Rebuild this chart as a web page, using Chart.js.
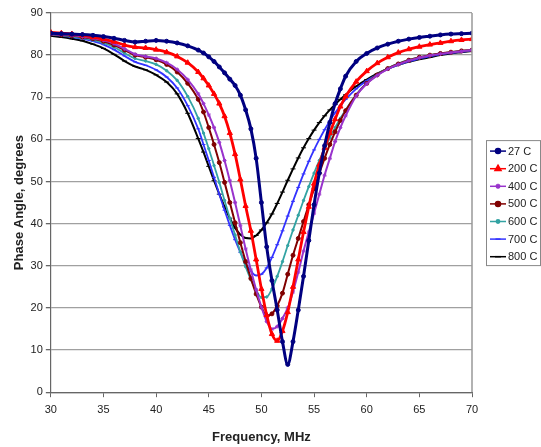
<!DOCTYPE html>
<html>
<head>
<meta charset="utf-8">
<script src="https://cdn.jsdelivr.net/npm/chart.js@4.4.1/dist/chart.umd.min.js"></script>
<style>
  body { margin: 0; background: #fff; }
  #wrap { width: 541px; height: 447px; }
</style>
</head>
<body>
<div id="wrap"><canvas id="phase"></canvas></div>
<script>
// frequency points, MHz (denser through the dip)
const freqs = [30, 31, 32, 33, 34, 35, 36, 37, 38, 39, 40, 41, 42, 43, 44,
  44.5, 45, 45.5, 46, 46.5, 47, 47.5, 48, 48.5, 49, 49.5, 50, 50.5, 51, 51.5,
  52, 52.5, 53, 53.5, 54, 54.5, 55, 55.5, 56, 56.5, 57, 57.5, 58,
  59, 60, 61, 62, 63, 64, 65, 66, 67, 68, 69, 70];

// phase angle, degrees
const t27 = [85.2, 85.1, 85.0, 84.9, 84.7, 84.4, 84.0, 83.5, 83.1, 83.3, 83.5, 83.3, 82.9, 82.2, 81.2,
  80.5, 79.6, 78.5, 77.2, 75.8, 74.3, 72.8, 70.5, 67, 62.5, 55.5, 45, 34.5, 26.5, 19.5,
  12, 6.6, 12, 19.5, 27.5, 36, 44.5, 52, 58.5, 64, 68.5, 72, 75,
  78.5, 80.4, 81.7, 82.6, 83.3, 83.8, 84.2, 84.5, 84.8, 85.0, 85.1, 85.2];
const t200 = [85.4, 85.2, 85.0, 84.7, 84.3, 83.8, 83.2, 82.4, 81.9, 81.7, 81.3, 80.7, 79.7, 78.2, 76.0,
  74.5, 72.8, 70.8, 68.5, 65.5, 61.5, 56.5, 50.5, 44.2, 38.3, 31.5, 24.5, 18.3, 13.8, 12.2,
  14.5, 19, 25, 31.5, 38, 44, 49.5, 54, 58, 61.5, 64.8, 67.8, 70.2,
  73.7, 76.2, 78.1, 79.5, 80.6, 81.4, 82.0, 82.5, 82.9, 83.3, 83.6, 83.8];
const t400 = [85.0, 84.9, 84.7, 84.4, 84.0, 83.5, 82.7, 81.5, 80.2, 79.7, 79.2, 78.2, 76.6, 74.2, 70.8,
  68.5, 65.8, 62.8, 59.3, 55, 50.2, 45, 39.5, 34, 29, 24.3, 20.2, 16.8, 15.0, 15.6,
  17.5, 20, 23.8, 28.5, 33.5, 38, 42.5, 47, 51.5, 55.5, 59.5, 62.8, 65.6,
  70.3, 73.2, 75.2, 76.7, 77.8, 78.7, 79.4, 79.9, 80.3, 80.6, 80.9, 81.2];
const t500 = [85.0, 84.8, 84.6, 84.3, 83.9, 83.3, 82.4, 81.2, 80.0, 79.5, 78.9, 77.8, 76.0, 73.3, 69.5,
  66.5, 62.8, 58.8, 54.5, 49.8, 45, 40.2, 35.5, 31, 27, 23.3, 20.2, 18.1, 18.6, 20.5,
  23.5, 28, 32.5, 36.5, 40.5, 44.5, 48.3, 52, 55.5, 58.8, 61.8, 64.5, 66.8,
  70.5, 73.3, 75.3, 76.8, 77.9, 78.8, 79.5, 80.0, 80.4, 80.7, 81.0, 81.2];
const t600 = [84.9, 84.7, 84.4, 84.1, 83.6, 82.9, 81.9, 80.5, 79.2, 78.6, 77.8, 76.3, 74.0, 70.2, 65.0,
  61.5, 57.8, 53.8, 49.8, 45.5, 41.3, 37.3, 33.3, 29.8, 26.7, 24.2, 22.5, 22.6, 24.5, 27.5,
  31, 34.8, 38.5, 42, 45.5, 48.8, 52, 55, 57.8, 60.4, 62.8, 65, 67,
  70.6, 73.4, 75.4, 76.9, 78.0, 78.9, 79.5, 80.0, 80.4, 80.7, 81.0, 81.2];
const t700 = [84.8, 84.6, 84.3, 83.9, 83.3, 82.5, 81.3, 79.8, 78.4, 77.6, 76.5, 74.8, 72.2, 68.0, 62.5,
  58.8, 55, 51, 47, 43.2, 39.6, 36.2, 33.2, 30.6, 28.7, 27.7, 28, 29.5, 32, 35,
  38.3, 41.8, 45.3, 48.6, 51.8, 54.8, 57.5, 60, 62.3, 64.4, 66.3, 68, 69.5,
  72.0, 73.9, 75.4, 76.7, 77.7, 78.5, 79.2, 79.7, 80.2, 80.5, 80.8, 81.1];
const t800 = [84.6, 84.3, 83.9, 83.4, 82.6, 81.6, 80.2, 78.6, 77.3, 76.5, 75.3, 73.6, 70.8, 66.2, 60.2,
  57, 53.6, 50.2, 47, 44, 41.3, 39, 37.4, 36.6, 36.5, 37.2, 38.5, 40.2, 42.3, 44.8,
  47.5, 50.3, 53, 55.6, 58, 60.2, 62.2, 64, 65.6, 67, 68.3, 69.5, 70.6,
  72.6, 74.2, 75.6, 76.8, 77.7, 78.4, 79.0, 79.5, 80.0, 80.4, 80.7, 81.0];

const seriesNames = ["27 C", "200 C", "400 C", "500 C", "600 C", "700 C", "800 C"];
const seriesValues = [t27, t200, t400, t500, t600, t700, t800];

const colors = ["#000080", "#ff0000", "#9933cc", "#800000", "#33a3a3", "#3333ff", "#000000"];
const marks = ["circle", "triangle", "star", "circle", "circle", "line", "line"];
const markSize = [2, 3, 2, 2, 1.2, 2, 2.5];
const widths = [3, 2.8, 2, 2, 1.8, 1.8, 2];

const font = "'Liberation Sans', Arial, sans-serif";

const datasets = seriesValues.map((vals, i) => ({
    label: seriesNames[i],
    data: freqs.map((f, j) => ({ x: f, y: vals[j] })),
    borderColor: colors[i],
    backgroundColor: colors[i],
    borderWidth: widths[i],
    pointStyle: marks[i],
    pointRadius: markSize[i],
    pointBorderWidth: 1,
    cubicInterpolationMode: "monotone",
    fill: false
}));

// legend box like the spreadsheet one, and the right frame line
const frameAndLegend = {
    id: "frameAndLegend",
    afterDraw(chart) {
        const { ctx, chartArea } = chart;
        ctx.save();
        ctx.strokeStyle = "#999";
        ctx.lineWidth = 1.5;
        ctx.beginPath();
        ctx.moveTo(chartArea.right, chartArea.top);
        ctx.lineTo(chartArea.right, chartArea.bottom);
        ctx.stroke();

        const bw = 54, bh = 125;
        const bx = chartArea.right + 14;
        const by = (chartArea.top + chartArea.bottom) / 2 - bh / 2;
        ctx.fillStyle = "#fff";
        ctx.fillRect(bx, by, bw, bh);
        ctx.strokeStyle = "#888";
        ctx.lineWidth = 1;
        ctx.strokeRect(bx + 0.5, by + 0.5, bw, bh);

        ctx.font = "11px " + font;
        ctx.textBaseline = "middle";
        ctx.textAlign = "left";
        seriesNames.forEach((name, i) => {
            const y = by + 11 + i * 17.6;
            ctx.strokeStyle = colors[i];
            ctx.lineWidth = 1.5;
            ctx.beginPath();
            ctx.moveTo(bx + 4, y);
            ctx.lineTo(bx + 20, y);
            ctx.stroke();
            Chart.helpers.drawPoint(ctx, {
                pointStyle: marks[i],
                radius: markSize[i] + 0.5,
                borderWidth: 1
            }, bx + 12, y);
            ctx.fillStyle = colors[i];
            ctx.fill();
            ctx.fillStyle = "#222";
            ctx.fillText(name, bx + 22, y + 0.5);
        });
        ctx.restore();
    }
};

new Chart(document.getElementById("phase"), {
    type: "line",
    data: { datasets: datasets },
    options: {
        responsive: true,
        maintainAspectRatio: false,
        animation: false,
        layout: { padding: { left: 8, right: 69, top: 13, bottom: 2 } },
        plugins: {
            legend: { display: false },
            tooltip: { enabled: false }
        },
        scales: {
            x: {
                type: "linear",
                min: 30,
                max: 70,
                ticks: { stepSize: 5, padding: 6, color: "#222", font: { family: font, size: 11 } },
                grid: { drawOnChartArea: false, drawTicks: true, tickLength: 5, tickColor: "#666" },
                border: { color: "#666", width: 1.2 },
                title: {
                    display: true,
                    text: "Frequency, MHz",
                    color: "#222",
                    font: { family: font, size: 13, weight: "bold" },
                    padding: { top: 7, bottom: 0 }
                }
            },
            y: {
                min: 0,
                max: 90,
                ticks: { stepSize: 10, padding: 3, color: "#222", font: { family: font, size: 11 } },
                grid: { color: "#a0a0a0", lineWidth: 1.3, tickLength: 5, tickColor: "#666" },
                border: { color: "#666", width: 1.2 },
                title: {
                    display: true,
                    text: "Phase Angle, degrees",
                    color: "#222",
                    font: { family: font, size: 13, weight: "bold" },
                    padding: { top: 4, bottom: 0 }
                }
            }
        }
    },
    plugins: [frameAndLegend]
});
</script>
</body>
</html>
